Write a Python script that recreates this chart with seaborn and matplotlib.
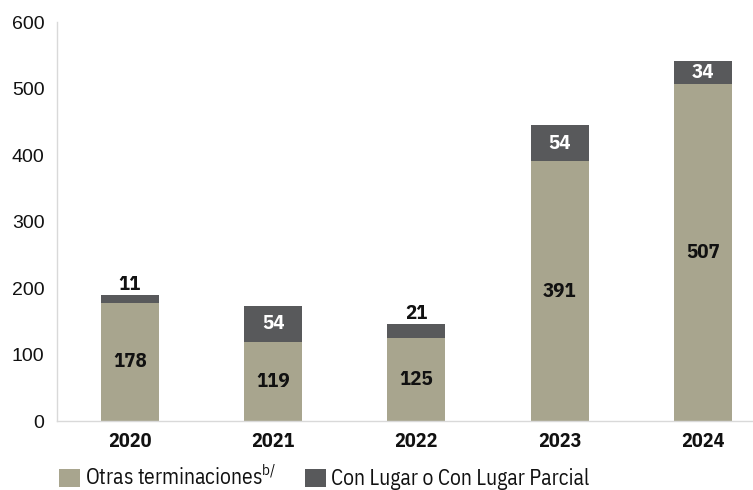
import matplotlib
matplotlib.use("Agg")
import matplotlib.pyplot as plt
import matplotlib.font_manager as fm
import seaborn as sns
import pandas as pd
from matplotlib.patches import Patch

years = ["2020", "2021", "2022", "2023", "2024"]
otras = [178, 119, 125, 391, 507]
con_lugar = [11, 54, 21, 54, 34]
y_ticks = [0, 100, 200, 300, 400, 500, 600]

sns.set_theme(style="white")
names = {f.name for f in fm.fontManager.ttflist}
narrow = next((n for n in ["IBM Plex Sans Condensed", "Roboto Condensed",
                           "Archivo Narrow", "PT Sans Narrow",
                           "Liberation Sans Narrow", "Open Sans Condensed"]
               if n in names), "DejaVu Sans")
plt.rcParams["font.family"] = ["Liberation Sans", "DejaVu Sans"]

c_otras = "#A8A58E"
c_con = "#58595B"
c_axis = "#D9D9D9"

df = pd.DataFrame({"year": years, "otras": otras, "con": con_lugar})
df["total"] = df["otras"] + df["con"]

fig = plt.figure(figsize=(7.53, 4.90), dpi=100)
ax = fig.add_axes([0.0757, 0.1408, 0.9243, 0.814])

sns.barplot(data=df, x="year", y="total", color=c_con, width=0.405,
            saturation=1, ax=ax, linewidth=0)
sns.barplot(data=df, x="year", y="otras", color=c_otras, width=0.405,
            saturation=1, ax=ax, linewidth=0)

ax.set_xlim(-0.51, 4.35)
ax.set_ylim(0, 600)
ax.set_yticks(y_ticks)
ax.set_xlabel("")
ax.set_ylabel("")

for s in ["top", "right"]:
    ax.spines[s].set_visible(False)
for s in ["left", "bottom"]:
    ax.spines[s].set_color(c_axis)
    ax.spines[s].set_linewidth(1.0)

ax.tick_params(axis="y", length=6, color=c_axis, width=1, labelsize=14,
               pad=3, labelcolor="#111111")
ax.tick_params(axis="x", length=0, pad=8)
for lbl in ax.get_xticklabels():
    lbl.set_fontfamily(narrow)
    lbl.set_fontweight("bold")
    lbl.set_fontsize(14.5)
    lbl.set_color("#111111")

lab_kw = dict(ha="center", va="center", fontweight="bold", fontsize=15,
              family=narrow)
for i, (o, c) in enumerate(zip(otras, con_lugar)):
    ax.text(i, o / 2, str(o), color="#111111", **lab_kw)
    if c >= 30:
        ax.text(i, o + c / 2, str(c), color="white", **lab_kw)
    else:
        ax.text(i, o + c + 16, str(c), color="#111111", **lab_kw)

handles = [Patch(facecolor=c_otras, edgecolor="none"),
           Patch(facecolor=c_con, edgecolor="none")]
leg = fig.legend(handles,
                 ["Otras terminaciones$^{\\mathregular{b/}}$",
                  "Con Lugar o Con Lugar Parcial"],
                 loc="center left", bbox_to_anchor=(0.053, 0.024), ncol=2,
                 frameon=False, handlelength=0.95, handleheight=0.95,
                 handletextpad=0.25, columnspacing=1.35,
                 prop={"family": narrow, "size": 15.5})
for t in leg.get_texts():
    t.set_color("#111111")

fig.savefig("out.png", dpi=100)
